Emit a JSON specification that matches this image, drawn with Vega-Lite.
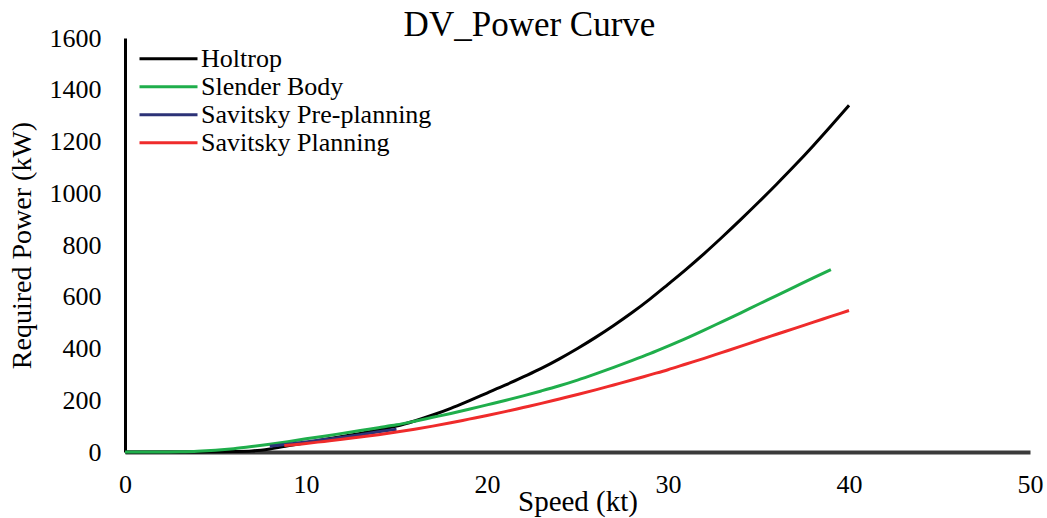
{
  "$schema": "https://vega.github.io/schema/vega-lite/v6.json",
  "width": 905,
  "height": 414,
  "autosize": {"type": "none"},
  "padding": {"left": 125, "top": 38, "right": 17, "bottom": 66},
  "background": "white",
  "title": {"text": "DV_Power Curve", "font": "Liberation Serif", "fontSize": 35, "fontWeight": "normal", "color": "#000000", "anchor": "middle", "frame": "group", "dx": -48, "baseline": "top", "offset": -18},
  "data": {"values": [
    {"speed":0,"power":0,"series":"Holtrop"},{"speed":2,"power":0,"series":"Holtrop"},{"speed":4,"power":0,"series":"Holtrop"},{"speed":5,"power":1,"series":"Holtrop"},{"speed":6,"power":2,"series":"Holtrop"},{"speed":7,"power":4,"series":"Holtrop"},{"speed":8,"power":12,"series":"Holtrop"},{"speed":9,"power":24,"series":"Holtrop"},{"speed":10,"power":36,"series":"Holtrop"},{"speed":11,"power":48,"series":"Holtrop"},{"speed":12,"power":60,"series":"Holtrop"},{"speed":13,"power":72,"series":"Holtrop"},{"speed":14,"power":85,"series":"Holtrop"},{"speed":15,"power":100,"series":"Holtrop"},{"speed":16,"power":120,"series":"Holtrop"},{"speed":17,"power":143,"series":"Holtrop"},{"speed":18,"power":169,"series":"Holtrop"},{"speed":19,"power":198,"series":"Holtrop"},{"speed":20,"power":228,"series":"Holtrop"},{"speed":21,"power":258,"series":"Holtrop"},{"speed":22,"power":290,"series":"Holtrop"},{"speed":23,"power":323,"series":"Holtrop"},{"speed":24,"power":360,"series":"Holtrop"},{"speed":25,"power":400,"series":"Holtrop"},{"speed":26,"power":443,"series":"Holtrop"},{"speed":27,"power":489,"series":"Holtrop"},{"speed":28,"power":538,"series":"Holtrop"},{"speed":29,"power":591,"series":"Holtrop"},{"speed":30,"power":648,"series":"Holtrop"},{"speed":31,"power":706,"series":"Holtrop"},{"speed":32,"power":767,"series":"Holtrop"},{"speed":33,"power":831,"series":"Holtrop"},{"speed":34,"power":897,"series":"Holtrop"},{"speed":35,"power":965,"series":"Holtrop"},{"speed":36,"power":1035,"series":"Holtrop"},{"speed":37,"power":1107,"series":"Holtrop"},{"speed":38,"power":1182,"series":"Holtrop"},{"speed":39,"power":1260,"series":"Holtrop"},{"speed":40,"power":1340,"series":"Holtrop"},
    {"speed":0,"power":0,"series":"Slender Body"},{"speed":2,"power":0,"series":"Slender Body"},{"speed":3,"power":1,"series":"Slender Body"},{"speed":4,"power":3,"series":"Slender Body"},{"speed":5,"power":7,"series":"Slender Body"},{"speed":6,"power":13,"series":"Slender Body"},{"speed":7,"power":21,"series":"Slender Body"},{"speed":8,"power":30,"series":"Slender Body"},{"speed":9,"power":40,"series":"Slender Body"},{"speed":10,"power":51,"series":"Slender Body"},{"speed":11,"power":61,"series":"Slender Body"},{"speed":12,"power":72,"series":"Slender Body"},{"speed":13,"power":83,"series":"Slender Body"},{"speed":14,"power":94,"series":"Slender Body"},{"speed":15,"power":105,"series":"Slender Body"},{"speed":16,"power":119,"series":"Slender Body"},{"speed":17,"power":134,"series":"Slender Body"},{"speed":18,"power":149,"series":"Slender Body"},{"speed":19,"power":165,"series":"Slender Body"},{"speed":20,"power":182,"series":"Slender Body"},{"speed":21,"power":199,"series":"Slender Body"},{"speed":22,"power":217,"series":"Slender Body"},{"speed":23,"power":236,"series":"Slender Body"},{"speed":24,"power":256,"series":"Slender Body"},{"speed":25,"power":278,"series":"Slender Body"},{"speed":26,"power":302,"series":"Slender Body"},{"speed":27,"power":327,"series":"Slender Body"},{"speed":28,"power":353,"series":"Slender Body"},{"speed":29,"power":380,"series":"Slender Body"},{"speed":30,"power":409,"series":"Slender Body"},{"speed":31,"power":439,"series":"Slender Body"},{"speed":32,"power":471,"series":"Slender Body"},{"speed":33,"power":504,"series":"Slender Body"},{"speed":34,"power":537,"series":"Slender Body"},{"speed":35,"power":571,"series":"Slender Body"},{"speed":36,"power":604,"series":"Slender Body"},{"speed":37,"power":638,"series":"Slender Body"},{"speed":38,"power":672,"series":"Slender Body"},{"speed":39,"power":705,"series":"Slender Body"},
    {"speed":8,"power":22,"series":"Savitsky Pre-planning"},{"speed":9,"power":30,"series":"Savitsky Pre-planning"},{"speed":10,"power":39,"series":"Savitsky Pre-planning"},{"speed":11,"power":48,"series":"Savitsky Pre-planning"},{"speed":12,"power":57,"series":"Savitsky Pre-planning"},{"speed":13,"power":67,"series":"Savitsky Pre-planning"},{"speed":14,"power":78,"series":"Savitsky Pre-planning"},{"speed":15,"power":88,"series":"Savitsky Pre-planning"},
    {"speed":8.8,"power":25,"series":"Savitsky Planning"},{"speed":10,"power":33,"series":"Savitsky Planning"},{"speed":11,"power":41,"series":"Savitsky Planning"},{"speed":12,"power":49,"series":"Savitsky Planning"},{"speed":13,"power":58,"series":"Savitsky Planning"},{"speed":14,"power":67,"series":"Savitsky Planning"},{"speed":15,"power":77,"series":"Savitsky Planning"},{"speed":16,"power":88,"series":"Savitsky Planning"},{"speed":17,"power":100,"series":"Savitsky Planning"},{"speed":18,"power":113,"series":"Savitsky Planning"},{"speed":19,"power":127,"series":"Savitsky Planning"},{"speed":20,"power":141,"series":"Savitsky Planning"},{"speed":21,"power":156,"series":"Savitsky Planning"},{"speed":22,"power":172,"series":"Savitsky Planning"},{"speed":23,"power":188,"series":"Savitsky Planning"},{"speed":24,"power":205,"series":"Savitsky Planning"},{"speed":25,"power":222,"series":"Savitsky Planning"},{"speed":26,"power":240,"series":"Savitsky Planning"},{"speed":27,"power":259,"series":"Savitsky Planning"},{"speed":28,"power":278,"series":"Savitsky Planning"},{"speed":29,"power":298,"series":"Savitsky Planning"},{"speed":30,"power":318,"series":"Savitsky Planning"},{"speed":31,"power":340,"series":"Savitsky Planning"},{"speed":32,"power":362,"series":"Savitsky Planning"},{"speed":33,"power":385,"series":"Savitsky Planning"},{"speed":34,"power":408,"series":"Savitsky Planning"},{"speed":35,"power":432,"series":"Savitsky Planning"},{"speed":36,"power":455,"series":"Savitsky Planning"},{"speed":37,"power":478,"series":"Savitsky Planning"},{"speed":38,"power":501,"series":"Savitsky Planning"},{"speed":39,"power":524,"series":"Savitsky Planning"},{"speed":40,"power":547,"series":"Savitsky Planning"}
  ]},
  "mark": {"type": "line", "strokeWidth": 3, "interpolate": "monotone"},
  "encoding": {
    "x": {"field": "speed", "type": "quantitative", "scale": {"domain": [0, 50], "nice": false}, "axis": {"values": [0,10,20,30,40,50], "format": "d", "labelFlush": false, "title": "Speed (kt)", "grid": false, "ticks": false, "domainColor": "#3a3a3a", "domainWidth": 4, "labelFont": "Liberation Serif", "labelFontSize": 26, "labelColor": "#000000", "labelPadding": 19, "titleFont": "Liberation Serif", "titleFontSize": 29, "titleFontWeight": "normal", "titleColor": "#000000", "titleBaseline": "alphabetic", "titleY": 58}},
    "y": {"field": "power", "type": "quantitative", "scale": {"domain": [0, 1600], "nice": false}, "axis": {"values": [0,200,400,600,800,1000,1200,1400,1600], "format": "d", "labelFlush": false, "title": "Required Power (kW)", "grid": false, "ticks": false, "domainColor": "#000000", "domainWidth": 3, "labelFont": "Liberation Serif", "labelFontSize": 26, "labelColor": "#000000", "labelPadding": 24, "titleFont": "Liberation Serif", "titleFontSize": 28, "titleFontWeight": "normal", "titleColor": "#000000", "titlePadding": 13}},
    "color": {"field": "series", "type": "nominal", "sort": ["Holtrop", "Slender Body", "Savitsky Pre-planning", "Savitsky Planning"], "scale": {"domain": ["Holtrop", "Slender Body", "Savitsky Pre-planning", "Savitsky Planning"], "range": ["#000000", "#1fae4b", "#2c3277", "#ef2b2b"]}, "legend": {"title": null, "orient": "none", "legendX": 13, "legendY": 7, "symbolType": "stroke", "symbolSize": 3364, "symbolStrokeWidth": 3, "clipHeight": 27.5, "rowPadding": 0, "labelOffset": 2, "labelFont": "Liberation Serif", "labelFontSize": 26, "labelColor": "#000000", "labelLimit": 400}}
  },
  "config": {"view": {"stroke": null}}
}
